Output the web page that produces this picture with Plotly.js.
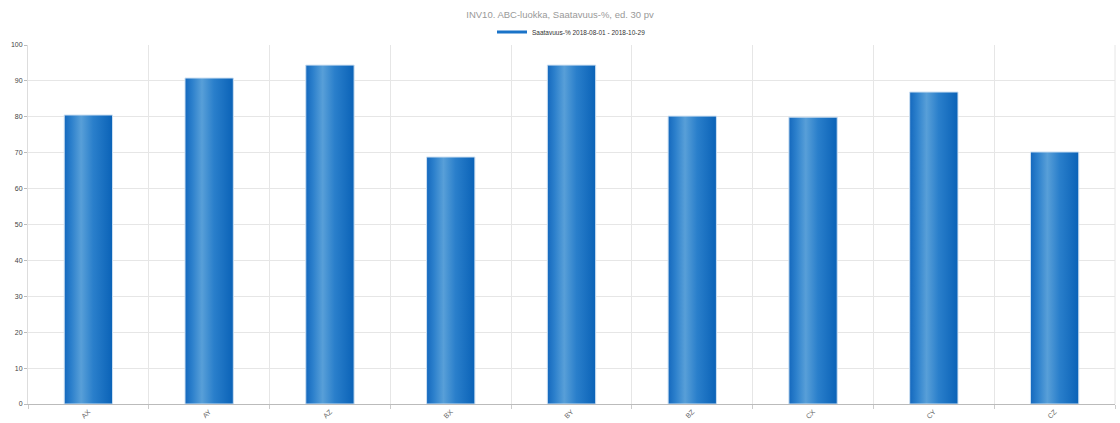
<!DOCTYPE html>
<html>
<head>
<meta charset="utf-8">
<script src="https://cdn.plot.ly/plotly-3.0.1.min.js"></script>
<style>
  html, body { margin: 0; padding: 0; background: #fff; }
  #chart { width: 1120px; height: 423px; }
</style>
</head>
<body>
<div id="chart"></div>
<script>
// ABC-XYZ classes and availability percentages
const categories = ['AX', 'AY', 'AZ', 'BX', 'BY', 'BZ', 'CX', 'CY', 'CZ'];
const availability = [80.5, 90.8, 94.4, 68.8, 94.4, 80.2, 79.9, 86.9, 70.2];
const seriesName = 'Saatavuus-% 2018-08-01 - 2018-10-29';
const chartTitle = 'INV10. ABC-luokka, Saatavuus-%, ed. 30 pv';
const yTicks = [0, 10, 20, 30, 40, 50, 60, 70, 80, 90, 100];

const font = 'Liberation Sans, Arial, sans-serif';

const bars = {
  type: 'bar',
  x: categories,
  y: availability,
  width: 0.4,
  showlegend: false,
  hoverinfo: 'x+y',
  marker: { color: '#1470c2', line: { color: '#cde0f2', width: 1 } }
};

// legend entry drawn as a short line
const legendEntry = {
  type: 'scatter',
  mode: 'lines',
  x: [null],
  y: [null],
  name: seriesName,
  line: { color: '#1a73c8', width: 3 },
  hoverinfo: 'skip'
};

const layout = {
  width: 1120,
  height: 423,
  margin: { l: 28, r: 5, t: 45, b: 19 },
  paper_bgcolor: '#fff',
  plot_bgcolor: '#fff',
  font: { family: font, color: '#444' },
  title: {
    text: chartTitle,
    font: { family: font, size: 9.5, color: '#999' },
    x: 0.5, xanchor: 'center', y: 0.974, yanchor: 'top'
  },
  showlegend: true,
  legend: {
    orientation: 'h',
    x: 0.5, xanchor: 'center',
    y: 1.036, yanchor: 'middle',
    font: { family: font, size: 6.5, color: '#333' },
    itemwidth: 30,
    bgcolor: 'rgba(0,0,0,0)'
  },
  xaxis: {
    type: 'category',
    tickson: 'boundaries',
    showgrid: true,
    gridcolor: '#e6e6e6',
    showline: true,
    linecolor: '#bbb',
    linewidth: 1,
    ticks: 'outside',
    ticklen: 4,
    tickcolor: '#ccc',
    tickangle: -45,
    tickfont: { family: font, size: 7, color: '#666' },
    mirror: false,
    range: [-0.5, categories.length - 0.5]
  },
  yaxis: {
    range: [0, 100],
    tickvals: yTicks,
    showgrid: true,
    gridcolor: '#e6e6e6',
    showline: true,
    linecolor: '#ddd',
    ticks: 'outside',
    ticklen: 3,
    tickcolor: '#bbb',
    tickfont: { family: font, size: 7, color: '#444' },
    zeroline: false,
    fixedrange: true
  },
  shapes: [
    { type: 'line', xref: 'paper', yref: 'paper', x0: 1, x1: 1, y0: 0, y1: 1,
      line: { color: '#e6e6e6', width: 1 } }
  ]
};

Plotly.newPlot('chart', [bars, legendEntry], layout, { displayModeBar: false, staticPlot: true })
  .then(function (gd) {
    // horizontal shading on the bars
    const svg = gd.querySelector('.main-svg');
    const ns = 'http://www.w3.org/2000/svg';
    let defs = svg.querySelector('defs');
    if (!defs) { defs = document.createElementNS(ns, 'defs'); svg.insertBefore(defs, svg.firstChild); }
    const grad = document.createElementNS(ns, 'linearGradient');
    grad.setAttribute('id', 'barShade');
    grad.setAttribute('x1', '0'); grad.setAttribute('x2', '1');
    grad.setAttribute('y1', '0'); grad.setAttribute('y2', '0');
    [['0%', '#1468bd'], ['15%', '#2c80cc'], ['35%', '#589fd8'], ['60%', '#2a7fcb'], ['100%', '#0a62b7']]
      .forEach(function (s) {
        const stop = document.createElementNS(ns, 'stop');
        stop.setAttribute('offset', s[0]);
        stop.setAttribute('stop-color', s[1]);
        grad.appendChild(stop);
      });
    defs.appendChild(grad);
    gd.querySelectorAll('.barlayer .point path').forEach(function (p) {
      p.style.fill = 'url(#barShade)';
    });
  });
</script>
</body>
</html>
